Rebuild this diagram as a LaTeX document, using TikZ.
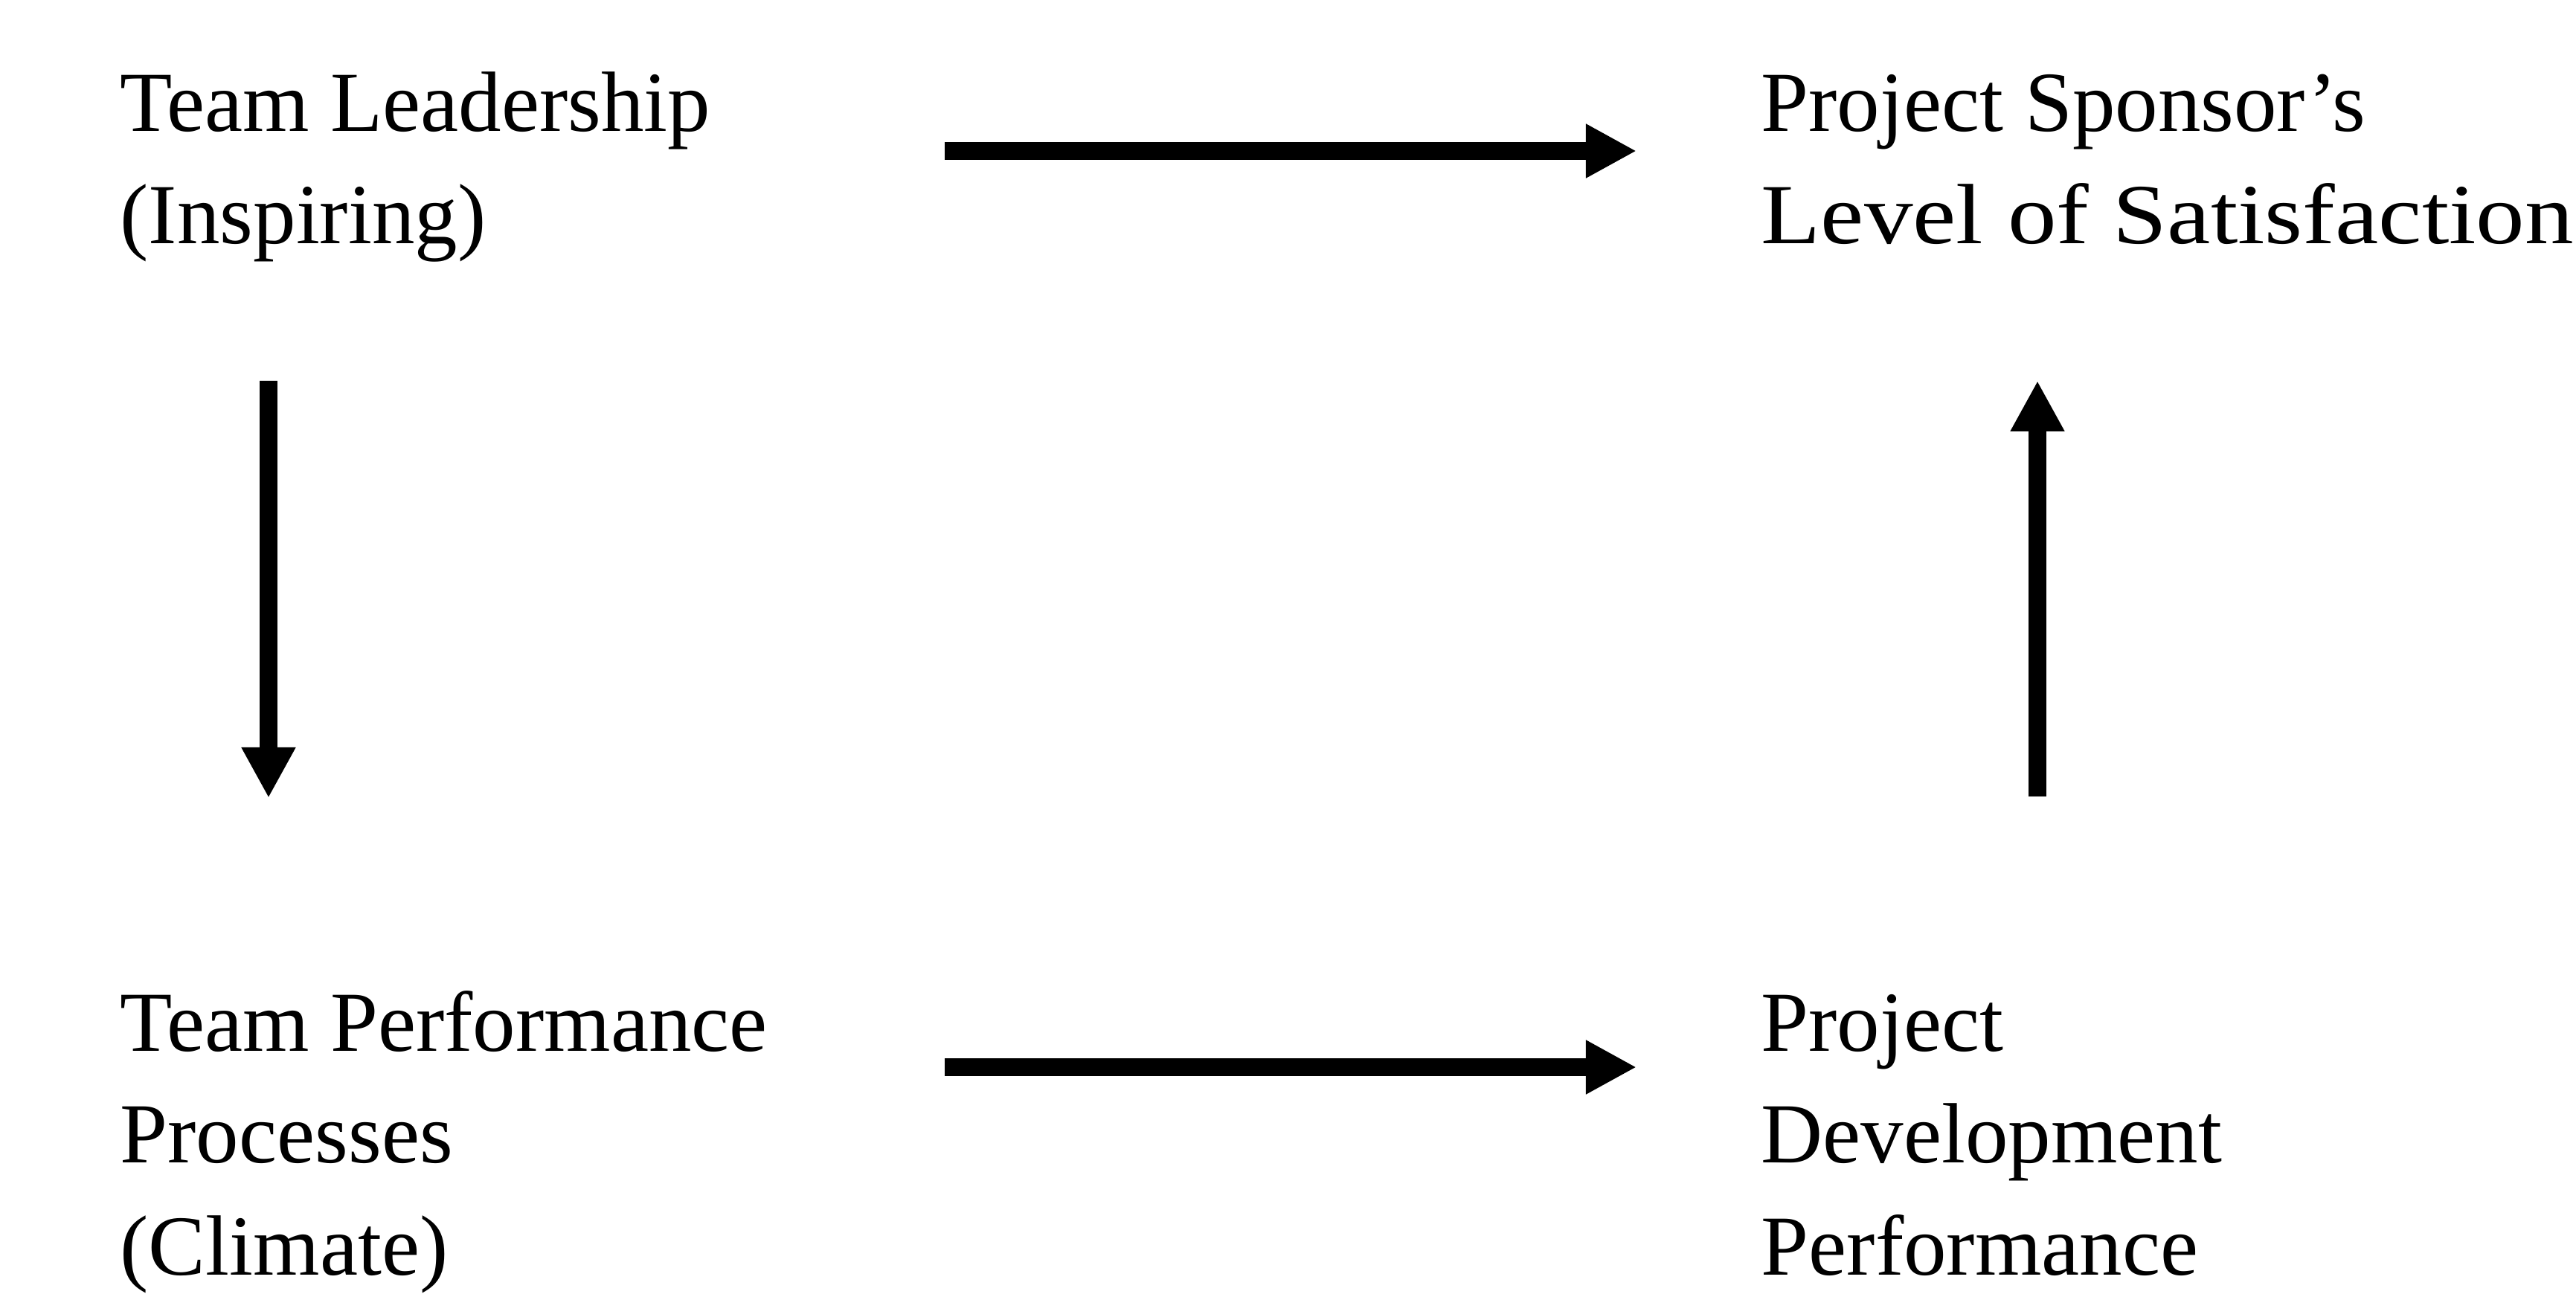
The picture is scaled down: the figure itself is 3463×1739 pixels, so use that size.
\documentclass[tikz,border=0pt]{standalone}
\usepackage{fontspec}
\usepackage{graphicx}
\setmainfont{Liberation Serif}
\usetikzlibrary{arrows.meta}
\begin{document}
\begin{tikzpicture}[x=0.01cm,y=-0.01cm,
  label/.style={inner sep=0pt,anchor=base west,align=left,
    font=\fontsize{32.7}{42.7}\selectfont},
  link/.style={line width=6.8pt,-{Triangle[width=0.68cm,length=0.68cm]}}]
\useasboundingbox (0,0) rectangle (3463,1739);
% four concepts (anchored at the baseline of their last line)
\node[label] (lead) at (161,327) {Team Leadership\\(Inspiring)};
\node[label] (spon) at (2367,327) {Project Sponsor’s\\\scalebox{1.14}[1]{Level of Satisfaction}};
\node[label] (proc) at (161,1714) {Team Performance\\Processes\\(Climate)};
\node[label] (dev)  at (2367,1714) {Project\\Development\\Performance};
% arrow ends
\coordinate (a1) at (1270,203);  \coordinate (a2) at (2200,203);
\coordinate (b1) at (1270,1435); \coordinate (b2) at (2200,1435);
\coordinate (c1) at (361,512);   \coordinate (c2) at (361,1073);
\coordinate (d1) at (2739,1071); \coordinate (d2) at (2739,512);
\draw[link] (a1) -- (a2);
\draw[link] (b1) -- (b2);
\draw[link] (c1) -- (c2);
\draw[link] (d1) -- (d2);
\end{tikzpicture}
\end{document}
